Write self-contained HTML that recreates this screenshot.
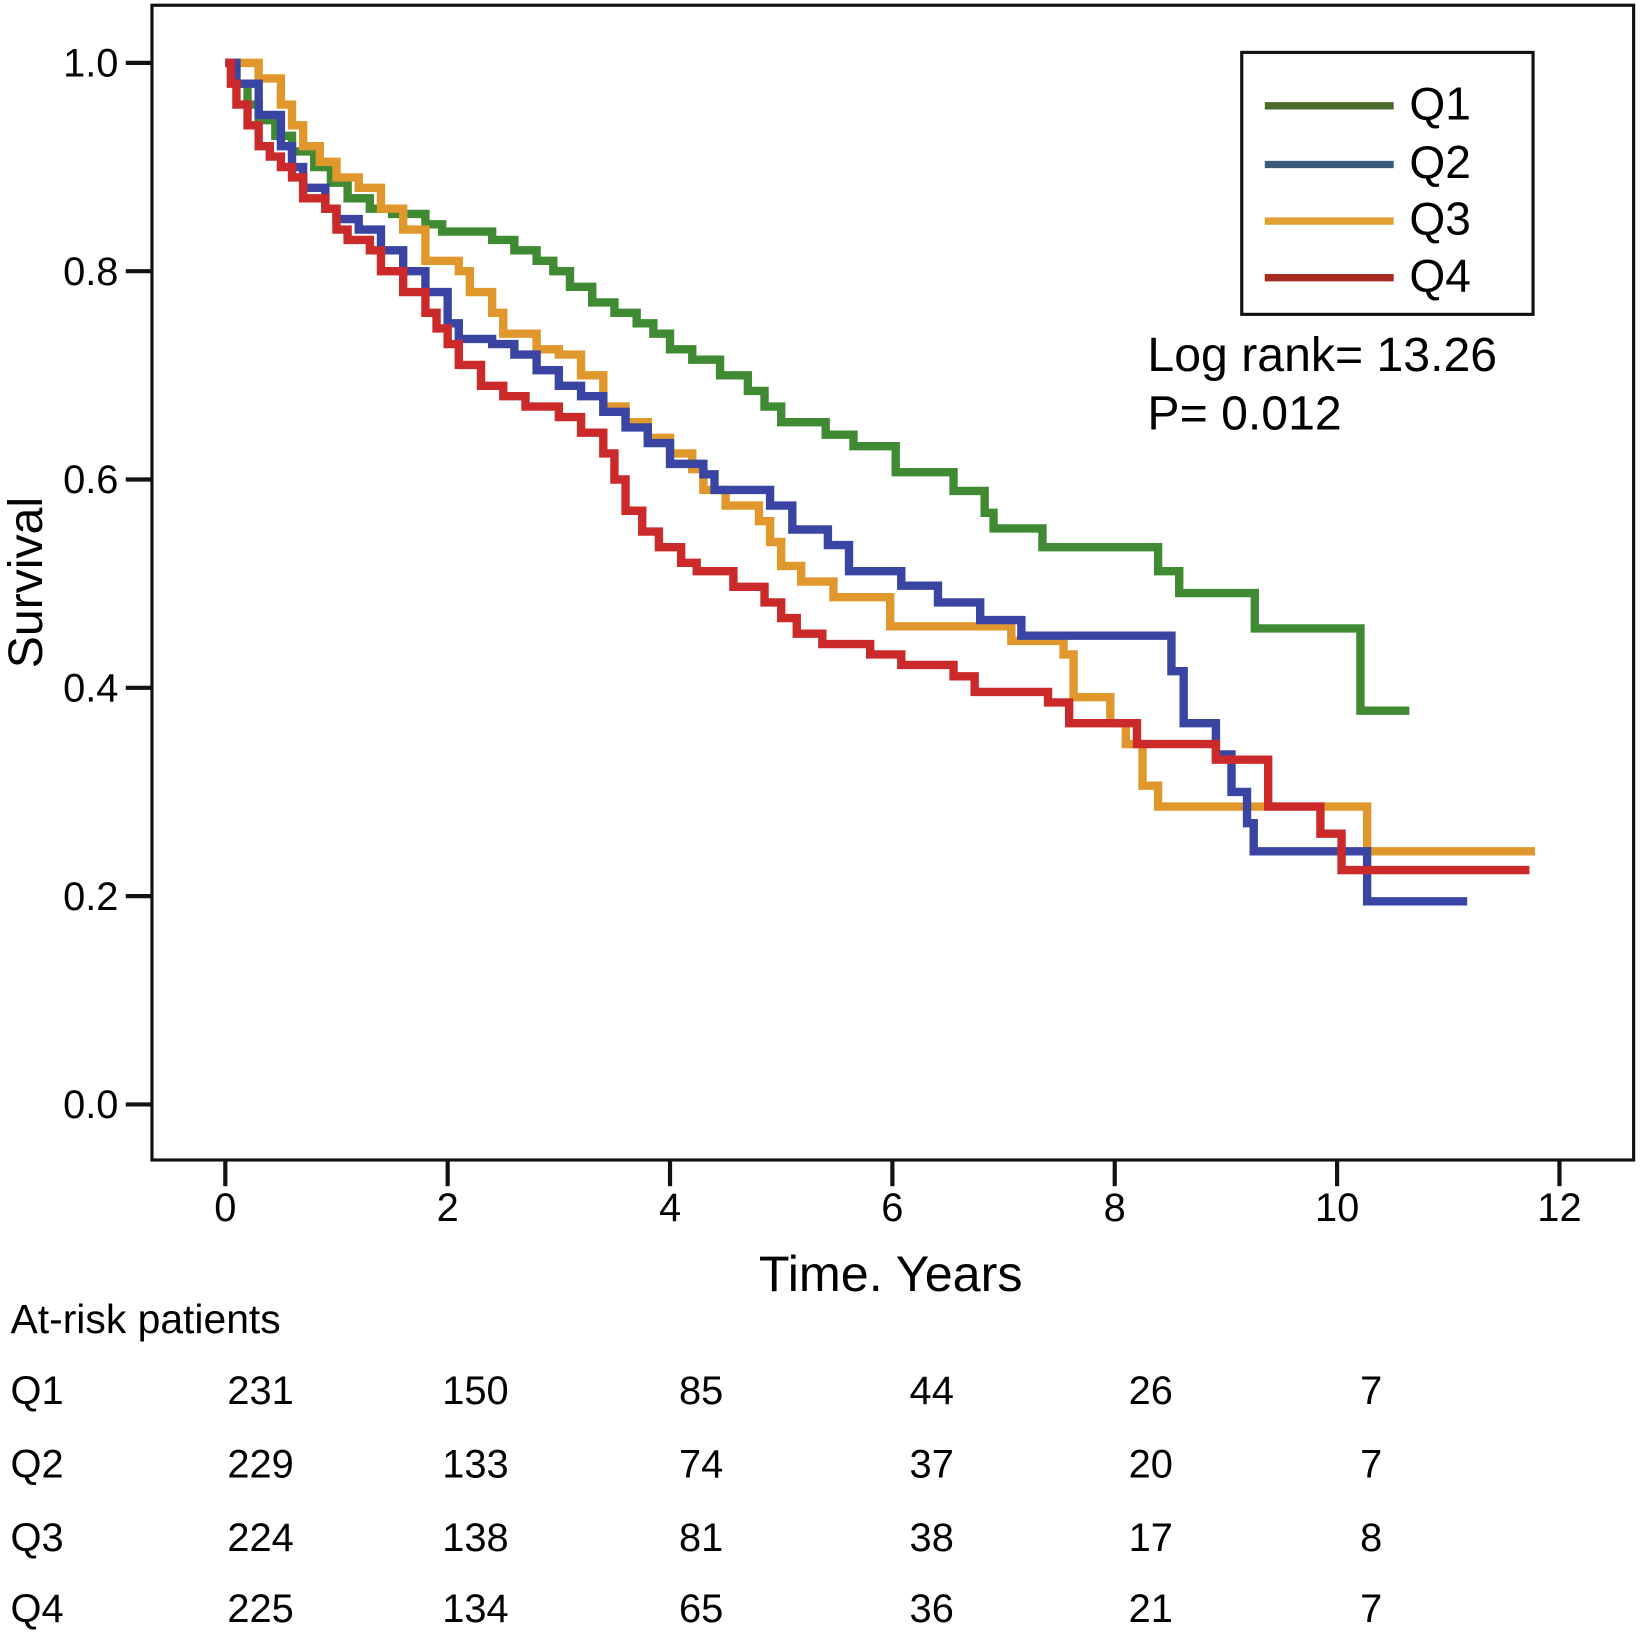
<!DOCTYPE html>
<html><head><meta charset="utf-8"><style>
html,body{margin:0;padding:0;background:#fff}
svg{display:block}
text{font-family:"Liberation Sans",Arial,sans-serif;fill:#000}
</style></head><body>
<svg id="chart" width="1641" height="1642" viewBox="0 0 1566 1567" xmlns="http://www.w3.org/2000/svg">
<rect x="0" y="0" width="1566" height="1567" fill="#fff"/>
<rect x="145" y="5" width="1414" height="1102" fill="none" stroke="#111" stroke-width="3"/>
<g id="yaxis"></g>
<g id="xaxis"></g>
<text transform="translate(40,556) rotate(-90)" text-anchor="middle" font-size="46">Survival</text>
<text x="850" y="1232" text-anchor="middle" font-size="48">Time. Years</text>
<g id="curves"></g>
<g>
<rect x="1185" y="50" width="278" height="250" fill="#fff" stroke="#111" stroke-width="3"/>
<g><line x1="1207" y1="101" x2="1330" y2="101" stroke="#4a6b2a" stroke-width="7"/><text x="1345" y="114" font-size="44">Q1</text></g>
<g><line x1="1207" y1="157" x2="1330" y2="157" stroke="#3a5a7a" stroke-width="7"/><text x="1345" y="170" font-size="44">Q2</text></g>
<g><line x1="1207" y1="211" x2="1330" y2="211" stroke="#e0a030" stroke-width="7"/><text x="1345" y="224" font-size="44">Q3</text></g>
<g><line x1="1207" y1="265" x2="1330" y2="265" stroke="#a82a1e" stroke-width="7"/><text x="1345" y="278" font-size="44">Q4</text></g>
</g>
<text x="1095" y="354" font-size="46">Log rank= 13.26</text>
<text x="1095" y="410" font-size="46">P= 0.012</text>
<g id="risk">
<text x="10" y="1272" font-size="39">At-risk patients</text>
</g>
</svg>
<script>
const NS="http://www.w3.org/2000/svg";
const yTicks=[0.0,0.2,0.4,0.6,0.8,1.0];
const yTickLabels=["0.0","0.2","0.4","0.6","0.8","1.0"];
const xTicks=[0,2,4,6,8,10,12];
const seriesNames=["Q1","Q2","Q3","Q4"];
const q1Times=[0,0.1,0.2,0.3,0.45,0.6,0.8,0.95,1.1,1.3,1.5,1.8,1.95,2.4,2.6,2.8,2.95,3.1,3.3,3.5,3.7,3.85,4.0,4.2,4.45,4.7,4.85,5.0,5.4,5.65,6.03,6.55,6.83,6.91,7.35,8.39,8.58,9.26,10.21,10.65];
const q1Surv=[1.0,0.98,0.96,0.945,0.93,0.915,0.9,0.885,0.87,0.86,0.855,0.845,0.838,0.83,0.82,0.81,0.8,0.785,0.77,0.76,0.75,0.74,0.725,0.715,0.7,0.685,0.67,0.655,0.643,0.632,0.607,0.589,0.568,0.553,0.535,0.512,0.491,0.457,0.378,0.378];
const q2Times=[0,0.1,0.3,0.5,0.6,0.7,0.9,1.0,1.2,1.4,1.6,1.8,2.0,2.1,2.4,2.6,2.8,3.0,3.2,3.4,3.6,3.8,4.0,4.3,4.4,4.9,5.1,5.42,5.61,6.08,6.41,6.79,7.16,8.51,8.62,8.91,9.05,9.19,9.25,10.27,11.17];
const q2Surv=[1.0,0.98,0.95,0.92,0.9,0.88,0.86,0.85,0.84,0.82,0.8,0.78,0.75,0.735,0.73,0.72,0.705,0.69,0.68,0.665,0.65,0.635,0.615,0.605,0.59,0.575,0.552,0.537,0.512,0.498,0.482,0.465,0.45,0.416,0.366,0.336,0.3,0.27,0.243,0.195,0.195];
const q3Times=[0,0.3,0.5,0.6,0.7,0.85,1.0,1.2,1.4,1.6,1.8,2.1,2.2,2.4,2.5,2.8,3.0,3.2,3.4,3.6,3.8,4.0,4.2,4.3,4.5,4.8,4.9,5.0,5.18,5.47,5.98,7.07,7.54,7.63,7.96,8.1,8.25,8.39,10.27,11.78];
const q3Surv=[1.0,0.985,0.96,0.94,0.92,0.905,0.89,0.88,0.86,0.84,0.81,0.8,0.78,0.76,0.74,0.725,0.72,0.7,0.67,0.655,0.64,0.625,0.61,0.59,0.575,0.56,0.54,0.517,0.502,0.487,0.459,0.445,0.432,0.391,0.366,0.346,0.306,0.286,0.243,0.243];
const q4Times=[0,0.05,0.1,0.2,0.3,0.4,0.5,0.6,0.7,0.9,1.0,1.1,1.3,1.4,1.6,1.8,1.9,2.0,2.1,2.3,2.5,2.7,3.0,3.2,3.4,3.5,3.6,3.75,3.9,4.1,4.24,4.57,4.85,5.0,5.14,5.37,5.8,6.08,6.55,6.74,7.4,7.59,8.2,8.91,9.38,9.85,10.04,11.73];
const q4Surv=[1.0,0.98,0.96,0.94,0.92,0.91,0.9,0.89,0.87,0.86,0.84,0.83,0.82,0.8,0.78,0.76,0.745,0.73,0.71,0.69,0.68,0.67,0.66,0.645,0.625,0.6,0.57,0.55,0.535,0.52,0.512,0.497,0.482,0.467,0.452,0.442,0.432,0.422,0.411,0.396,0.386,0.366,0.346,0.331,0.286,0.26,0.225,0.225];
const riskCols=["0","2","4","6","8","10"];
const riskQ1=[231,150,85,44,26,7];
const riskQ2=[229,133,74,37,20,7];
const riskQ3=[224,138,81,38,17,8];
const riskQ4=[225,134,65,36,21,7];

const xs=t=>215+t*106.1;
const ys=s=>1054-s*994;
function mk(tag,attrs,parent){const e=document.createElementNS(NS,tag);for(const k in attrs)e.setAttribute(k,attrs[k]);parent.appendChild(e);return e;}
const ya=document.getElementById('yaxis');
yTicks.forEach((v,i)=>{
  const l=mk('line',{x1:120,x2:145,y1:ys(v),y2:ys(v),stroke:'#111','stroke-width':4},ya);
  
  
  const t=mk('text',{x:113,y:ys(v)+13,'text-anchor':'end','font-size':38},ya);
  
  
  t.textContent=yTickLabels[i];
});
const xa=document.getElementById('xaxis');
xTicks.forEach(v=>{
  const l=mk('line',{x1:xs(v),x2:xs(v),y1:1107,y2:1132,stroke:'#111','stroke-width':4},xa);
  
  
  const t=mk('text',{x:xs(v),y:1165,'text-anchor':'middle','font-size':38},xa);
  
  
  t.textContent=String(v);
});
const colors=["#3f8a32","#3a45a3","#e0982c","#cc2a2a"];
const times=[q1Times,q2Times,q3Times,q4Times];
const survs=[q1Surv,q2Surv,q3Surv,q4Surv];
const cg=document.getElementById('curves');
[0,2,1,3].forEach(i=>{
  const T=times[i],S=survs[i];
  let d='M'+xs(T[0])+','+ys(S[0]);
  for(let k=1;k<T.length;k++){d+=' H'+xs(T[k])+' V'+ys(S[k]);}
  const p=mk('path',{d:d,fill:'none',stroke:colors[i],'stroke-width':8,'stroke-linejoin':'miter'},cg);
  
  
});
const rg=document.getElementById('risk');
const riskRows=[riskQ1,riskQ2,riskQ3,riskQ4];
const colX=[217,422,648,868,1077,1298];
const rowY=[1340,1410,1480,1548];
riskRows.forEach((row,r)=>{
  const lab=mk('text',{x:10,y:rowY[r],'font-size':38},rg);
  
  
  lab.textContent=seriesNames[r];
  row.forEach((v,c)=>{
    const t=mk('text',{x:colX[c],y:rowY[r],'font-size':38},rg);
    
    
    t.textContent=String(v);
  });
});
</script>
</body></html>
